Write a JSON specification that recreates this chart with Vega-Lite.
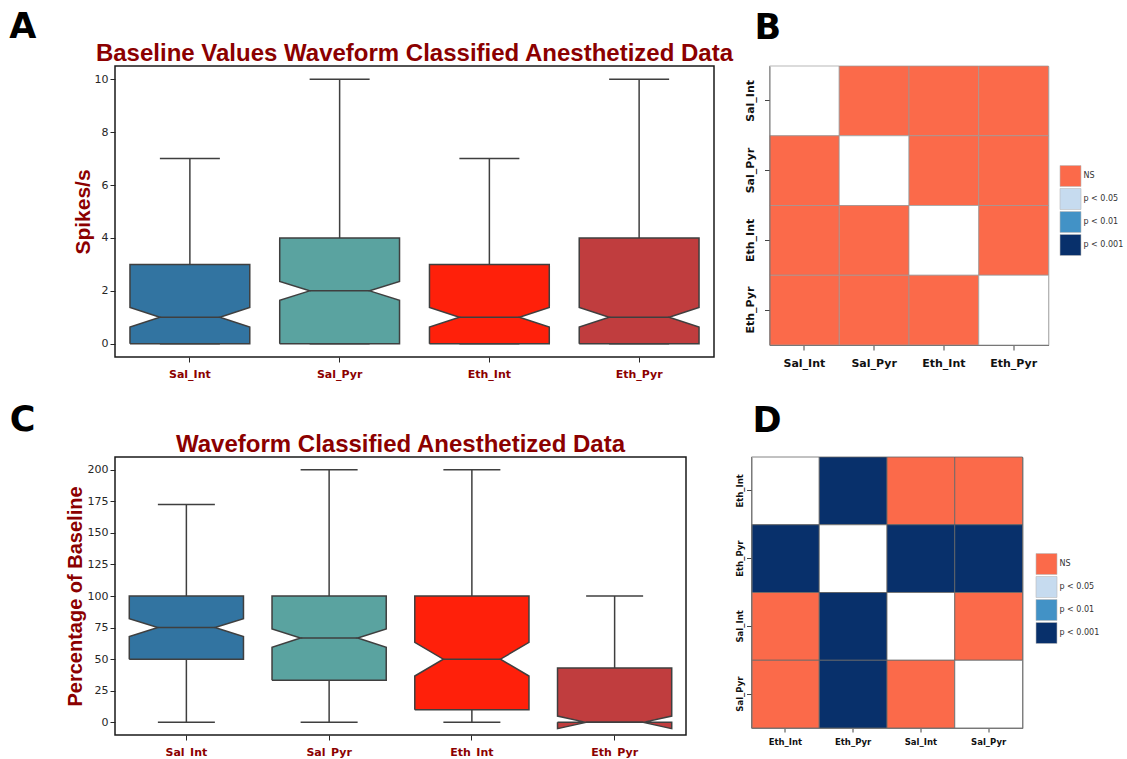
{
  "$schema": "https://vega.github.io/schema/vega-lite/v6.json",
  "background": "white",
  "padding": {"left": 9, "top": 10, "right": 0, "bottom": 0},
  "config": {"font": "DejaVu Sans"},
  "resolve": {"scale": {"fill": "independent", "xOffset": "independent", "x": "independent", "y": "independent"}},
  "datasets": {
    "statsA": [
      {"group": "Sal_Int", "whislo": 0, "q1": 0, "nlo": 0.63, "med": 1, "nhi": 1.37, "q3": 3, "whishi": 7},
      {"group": "Sal_Pyr", "whislo": 0, "q1": 0, "nlo": 1.64, "med": 2, "nhi": 2.36, "q3": 4, "whishi": 10},
      {"group": "Eth_Int", "whislo": 0, "q1": 0, "nlo": 0.63, "med": 1, "nhi": 1.37, "q3": 3, "whishi": 7},
      {"group": "Eth_Pyr", "whislo": 0, "q1": 0, "nlo": 0.63, "med": 1, "nhi": 1.37, "q3": 4, "whishi": 10}
    ],
    "statsC": [
      {"group": "Sal_Int", "whislo": 0, "q1": 50, "nlo": 68, "med": 75, "nhi": 82, "q3": 100, "whishi": 172.5},
      {"group": "Sal_Pyr", "whislo": 0, "q1": 33.3, "nlo": 59.5, "med": 66.7, "nhi": 73.9, "q3": 100, "whishi": 200},
      {"group": "Eth_Int", "whislo": 0, "q1": 10, "nlo": 36.7, "med": 50, "nhi": 63.3, "q3": 100, "whishi": 200},
      {"group": "Eth_Pyr", "whislo": 0, "q1": 0, "nlo": -5, "med": 0, "nhi": 5, "q3": 43, "whishi": 100}
    ],
    "notch": [
      {"stat": "q1", "sides": ["L", "R", "L"], "ks": [0, 9, 10]},
      {"stat": "nlo", "sides": ["L", "R"], "ks": [1, 8]},
      {"stat": "med", "sides": ["CL", "CR"], "ks": [2, 7]},
      {"stat": "nhi", "sides": ["L", "R"], "ks": [3, 6]},
      {"stat": "q3", "sides": ["L", "R"], "ks": [4, 5]}
    ],
    "heatB": [
      {"r": "Sal_Int", "c": "Sal_Int", "sig": "same"},
      {"r": "Sal_Int", "c": "Sal_Pyr", "sig": "NS"},
      {"r": "Sal_Int", "c": "Eth_Int", "sig": "NS"},
      {"r": "Sal_Int", "c": "Eth_Pyr", "sig": "NS"},
      {"r": "Sal_Pyr", "c": "Sal_Int", "sig": "NS"},
      {"r": "Sal_Pyr", "c": "Sal_Pyr", "sig": "same"},
      {"r": "Sal_Pyr", "c": "Eth_Int", "sig": "NS"},
      {"r": "Sal_Pyr", "c": "Eth_Pyr", "sig": "NS"},
      {"r": "Eth_Int", "c": "Sal_Int", "sig": "NS"},
      {"r": "Eth_Int", "c": "Sal_Pyr", "sig": "NS"},
      {"r": "Eth_Int", "c": "Eth_Int", "sig": "same"},
      {"r": "Eth_Int", "c": "Eth_Pyr", "sig": "NS"},
      {"r": "Eth_Pyr", "c": "Sal_Int", "sig": "NS"},
      {"r": "Eth_Pyr", "c": "Sal_Pyr", "sig": "NS"},
      {"r": "Eth_Pyr", "c": "Eth_Int", "sig": "NS"},
      {"r": "Eth_Pyr", "c": "Eth_Pyr", "sig": "same"}
    ],
    "heatD": [
      {"r": "Eth_Int", "c": "Eth_Int", "sig": "same"},
      {"r": "Eth_Int", "c": "Eth_Pyr", "sig": "p < 0.001"},
      {"r": "Eth_Int", "c": "Sal_Int", "sig": "NS"},
      {"r": "Eth_Int", "c": "Sal_Pyr", "sig": "NS"},
      {"r": "Eth_Pyr", "c": "Eth_Int", "sig": "p < 0.001"},
      {"r": "Eth_Pyr", "c": "Eth_Pyr", "sig": "same"},
      {"r": "Eth_Pyr", "c": "Sal_Int", "sig": "p < 0.001"},
      {"r": "Eth_Pyr", "c": "Sal_Pyr", "sig": "p < 0.001"},
      {"r": "Sal_Int", "c": "Eth_Int", "sig": "NS"},
      {"r": "Sal_Int", "c": "Eth_Pyr", "sig": "p < 0.001"},
      {"r": "Sal_Int", "c": "Sal_Int", "sig": "same"},
      {"r": "Sal_Int", "c": "Sal_Pyr", "sig": "NS"},
      {"r": "Sal_Pyr", "c": "Eth_Int", "sig": "NS"},
      {"r": "Sal_Pyr", "c": "Eth_Pyr", "sig": "p < 0.001"},
      {"r": "Sal_Pyr", "c": "Sal_Int", "sig": "NS"},
      {"r": "Sal_Pyr", "c": "Sal_Pyr", "sig": "same"}
    ]
  },
  "columns": 1,
  "align": "none",
  "spacing": 23,
  "concat": [
    {
      "title": {"text": "A", "anchor": "start", "frame": "bounds", "font": "DejaVu Sans", "fontSize": 35, "fontWeight": "bold", "color": "#000000", "offset": 0, "dx": -62, "dy": 35},
      "spacing": 8.5,
      "resolve": {"scale": {"fill": "independent", "xOffset": "independent", "x": "independent", "y": "independent"}},
      "hconcat": [
        {
          "width": 599,
          "height": 291,
          "view": {"stroke": "#1a1a1a", "strokeWidth": 1.5},
          "title": {"text": "Baseline Values Waveform Classified Anesthetized Data", "font": "Liberation Sans", "fontSize": 24, "fontWeight": "bold", "color": "#8b0000", "anchor": "middle", "frame": "group", "offset": 0},
          "encoding": {
            "x": {"field": "group", "type": "nominal",
              "scale": {"domain": ["Sal_Int", "Sal_Pyr", "Eth_Int", "Eth_Pyr"], "paddingInner": 0, "paddingOuter": 0},
              "axis": {"title": null, "labelAngle": 0, "labelColor": "#8b0000", "labelFont": "DejaVu Sans", "labelFontWeight": "bold", "labelFontSize": 11, "labelPadding": 6, "tickSize": 5, "tickColor": "#262626", "tickWidth": 1, "domain": false}}
          },
          "layer": [
            {
              "data": {"name": "statsA"},
              "mark": {"type": "rule", "color": "#3f3f3f", "strokeWidth": 1.5},
              "encoding": {
                "y": {"field": "whislo", "type": "quantitative",
                  "scale": {"domain": [-0.5, 10.5], "nice": false, "zero": false},
                  "axis": {"title": "Spikes/s", "values": [0, 2, 4, 6, 8, 10], "grid": false, "domain": false, "labelFont": "DejaVu Sans", "labelFontSize": 11, "labelColor": "#262626", "tickSize": 5, "tickColor": "#262626", "labelPadding": 2, "titleFont": "Liberation Sans", "titleFontSize": 21, "titleFontWeight": "bold", "titleColor": "#8b0000", "titlePadding": 1}},
                "y2": {"field": "whishi"}
              }
            },
            {
              "data": {"name": "statsA"},
              "transform": [{"fold": ["whislo", "whishi"], "as": ["cap", "v"]}],
              "mark": {"type": "tick", "color": "#3f3f3f", "size": 60, "thickness": 1.5, "opacity": 1},
              "encoding": {"y": {"field": "v", "type": "quantitative",
                  "axis": {"title": "Spikes/s", "values": [0, 2, 4, 6, 8, 10], "grid": false, "domain": false, "labelFont": "DejaVu Sans", "labelFontSize": 11, "labelColor": "#262626", "tickSize": 5, "tickColor": "#262626", "labelPadding": 2, "titleFont": "Liberation Sans", "titleFontSize": 21, "titleFontWeight": "bold", "titleColor": "#8b0000", "titlePadding": 1}}}
            },
            {
              "data": {"name": "statsA"},
              "transform": [
                {"fold": ["q1", "nlo", "med", "nhi", "q3"], "as": ["stat", "v"]},
                {"lookup": "stat", "from": {"data": {"name": "notch"}, "key": "stat", "fields": ["sides", "ks"]}},
                {"flatten": ["sides", "ks"], "as": ["side", "k"]}
              ],
              "mark": {"type": "line", "stroke": "#3f3f3f", "strokeWidth": 1.5, "strokeJoin": "miter"},
              "encoding": {
                "xOffset": {"field": "side", "type": "nominal", "scale": {"type": "point", "domain": ["L", "CL", "M", "CR", "R"], "padding": 0.5}},
                "y": {"field": "v", "type": "quantitative",
                  "axis": {"title": "Spikes/s", "values": [0, 2, 4, 6, 8, 10], "grid": false, "domain": false, "labelFont": "DejaVu Sans", "labelFontSize": 11, "labelColor": "#262626", "tickSize": 5, "tickColor": "#262626", "labelPadding": 2, "titleFont": "Liberation Sans", "titleFontSize": 21, "titleFontWeight": "bold", "titleColor": "#8b0000", "titlePadding": 1}},
                "order": {"field": "k", "type": "quantitative"},
                "detail": {"field": "group"},
                "fill": {"field": "group", "type": "nominal", "legend": null,
                  "scale": {"domain": ["Sal_Int", "Sal_Pyr", "Eth_Int", "Eth_Pyr"], "range": ["#3274a1", "#5aa3a0", "#ff200a", "#c03d3e"]}}
              }
            },
            {
              "data": {"name": "statsA"},
              "transform": [
                {"fold": ["q1", "nlo", "med", "nhi", "q3"], "as": ["stat", "v"]},
                {"lookup": "stat", "from": {"data": {"name": "notch"}, "key": "stat", "fields": ["sides", "ks"]}},
                {"flatten": ["sides", "ks"], "as": ["side", "k"]},
                {"filter": "datum.stat === 'med'"}
              ],
              "mark": {"type": "line", "stroke": "#3f3f3f", "strokeWidth": 1.5},
              "encoding": {
                "xOffset": {"field": "side", "type": "nominal"},
                "y": {"field": "v", "type": "quantitative",
                  "axis": {"title": "Spikes/s", "values": [0, 2, 4, 6, 8, 10], "grid": false, "domain": false, "labelFont": "DejaVu Sans", "labelFontSize": 11, "labelColor": "#262626", "tickSize": 5, "tickColor": "#262626", "labelPadding": 2, "titleFont": "Liberation Sans", "titleFontSize": 21, "titleFontWeight": "bold", "titleColor": "#8b0000", "titlePadding": 1}},
                "order": {"field": "k", "type": "quantitative"},
                "detail": {"field": "group"}
              }
            }
          ]
        },
        {
          "width": 279,
          "height": 279,
          "view": {"stroke": "#cccccc", "strokeWidth": 1},
          "title": {"text": "B", "anchor": "start", "frame": "group", "font": "DejaVu Sans", "fontSize": 35, "fontWeight": "bold", "color": "#000000", "offset": 20, "dx": -15},
          "data": {"name": "heatB"},
          "mark": {"type": "rect", "stroke": "#9a9a9a", "strokeWidth": 0.7},
          "encoding": {
            "x": {"field": "c", "type": "nominal",
              "scale": {"domain": ["Sal_Int", "Sal_Pyr", "Eth_Int", "Eth_Pyr"], "paddingInner": 0, "paddingOuter": 0},
              "axis": {"title": null, "labelAngle": 0, "labelFont": "DejaVu Sans", "labelFontWeight": "bold", "labelFontSize": 11, "labelColor": "#111111", "labelPadding": 7, "tickSize": 5, "tickColor": "#444444", "domainColor": "#777777"}},
            "y": {"field": "r", "type": "nominal",
              "scale": {"domain": ["Sal_Int", "Sal_Pyr", "Eth_Int", "Eth_Pyr"], "paddingInner": 0, "paddingOuter": 0},
              "axis": {"title": null, "labelAngle": -90, "labelAlign": "center", "labelBaseline": "bottom", "labelFont": "DejaVu Sans", "labelFontWeight": "bold", "labelFontSize": 11, "labelColor": "#111111", "labelPadding": 9, "tickSize": 5, "tickColor": "#444444", "domainColor": "#777777"}},
            "fill": {"field": "sig", "type": "nominal",
              "scale": {"domain": ["NS", "p < 0.05", "p < 0.01", "p < 0.001", "same"], "range": ["#fb6a4a", "#c6dbef", "#4292c6", "#08306b", "#ffffff"]},
              "legend": {"title": null, "values": ["NS", "p < 0.05", "p < 0.01", "p < 0.001"], "orient": "none", "legendX": 290, "legendY": 99, "symbolType": "square", "symbolSize": 441, "rowPadding": -3, "symbolStrokeColor": "#bbbbbb", "symbolStrokeWidth": 0.6, "labelFont": "DejaVu Sans", "labelFontSize": 8, "labelColor": "#333333", "labelOffset": 2, "padding": 0}}
          }
        }
      ]
    },
    {
      "title": {"text": "C", "anchor": "start", "frame": "bounds", "font": "DejaVu Sans", "fontSize": 35, "fontWeight": "bold", "color": "#000000", "offset": 0, "dx": -54.5, "dy": 35},
      "spacing": 47.5,
      "resolve": {"scale": {"fill": "independent", "xOffset": "independent", "x": "independent", "y": "independent"}},
      "hconcat": [
        {
          "width": 571,
          "height": 278,
          "view": {"stroke": "#1a1a1a", "strokeWidth": 1.5},
          "title": {"text": "Waveform Classified Anesthetized Data", "font": "Liberation Sans", "fontSize": 24, "fontWeight": "bold", "color": "#8b0000", "anchor": "middle", "frame": "group", "offset": 0},
          "encoding": {
            "x": {"field": "group", "type": "nominal",
              "scale": {"domain": ["Sal_Int", "Sal_Pyr", "Eth_Int", "Eth_Pyr"], "paddingInner": 0, "paddingOuter": 0},
              "axis": {"title": null, "labelAngle": 0, "labelColor": "#8b0000", "labelFont": "DejaVu Sans", "labelFontWeight": "bold", "labelFontSize": 11, "labelPadding": 6, "tickSize": 5, "tickColor": "#262626", "tickWidth": 1, "domain": false}}
          },
          "layer": [
            {
              "data": {"name": "statsC"},
              "mark": {"type": "rule", "color": "#3f3f3f", "strokeWidth": 1.5},
              "encoding": {
                "y": {"field": "whislo", "type": "quantitative",
                  "scale": {"domain": [-10, 210], "nice": false, "zero": false},
                  "axis": {"title": "Percentage of Baseline", "values": [0, 25, 50, 75, 100, 125, 150, 175, 200], "grid": false, "domain": false, "labelFont": "DejaVu Sans", "labelFontSize": 11, "labelColor": "#262626", "tickSize": 5, "tickColor": "#262626", "labelPadding": 2, "titleFont": "Liberation Sans", "titleFontSize": 20, "titleFontWeight": "bold", "titleColor": "#8b0000", "titlePadding": 2}},
                "y2": {"field": "whishi"}
              }
            },
            {
              "data": {"name": "statsC"},
              "transform": [{"fold": ["whislo", "whishi"], "as": ["cap", "v"]}],
              "mark": {"type": "tick", "color": "#3f3f3f", "size": 57, "thickness": 1.5, "opacity": 1},
              "encoding": {"y": {"field": "v", "type": "quantitative",
                  "axis": {"title": "Percentage of Baseline", "values": [0, 25, 50, 75, 100, 125, 150, 175, 200], "grid": false, "domain": false, "labelFont": "DejaVu Sans", "labelFontSize": 11, "labelColor": "#262626", "tickSize": 5, "tickColor": "#262626", "labelPadding": 2, "titleFont": "Liberation Sans", "titleFontSize": 20, "titleFontWeight": "bold", "titleColor": "#8b0000", "titlePadding": 2}}}
            },
            {
              "data": {"name": "statsC"},
              "transform": [
                {"fold": ["q1", "nlo", "med", "nhi", "q3"], "as": ["stat", "v"]},
                {"lookup": "stat", "from": {"data": {"name": "notch"}, "key": "stat", "fields": ["sides", "ks"]}},
                {"flatten": ["sides", "ks"], "as": ["side", "k"]}
              ],
              "mark": {"type": "line", "stroke": "#3f3f3f", "strokeWidth": 1.5, "strokeJoin": "miter"},
              "encoding": {
                "xOffset": {"field": "side", "type": "nominal", "scale": {"type": "point", "domain": ["L", "CL", "M", "CR", "R"], "padding": 0.5}},
                "y": {"field": "v", "type": "quantitative",
                  "axis": {"title": "Percentage of Baseline", "values": [0, 25, 50, 75, 100, 125, 150, 175, 200], "grid": false, "domain": false, "labelFont": "DejaVu Sans", "labelFontSize": 11, "labelColor": "#262626", "tickSize": 5, "tickColor": "#262626", "labelPadding": 2, "titleFont": "Liberation Sans", "titleFontSize": 20, "titleFontWeight": "bold", "titleColor": "#8b0000", "titlePadding": 2}},
                "order": {"field": "k", "type": "quantitative"},
                "detail": {"field": "group"},
                "fill": {"field": "group", "type": "nominal", "legend": null,
                  "scale": {"domain": ["Sal_Int", "Sal_Pyr", "Eth_Int", "Eth_Pyr"], "range": ["#3274a1", "#5aa3a0", "#ff200a", "#c03d3e"]}}
              }
            },
            {
              "data": {"name": "statsC"},
              "transform": [
                {"fold": ["q1", "nlo", "med", "nhi", "q3"], "as": ["stat", "v"]},
                {"lookup": "stat", "from": {"data": {"name": "notch"}, "key": "stat", "fields": ["sides", "ks"]}},
                {"flatten": ["sides", "ks"], "as": ["side", "k"]},
                {"filter": "datum.stat === 'med'"}
              ],
              "mark": {"type": "line", "stroke": "#3f3f3f", "strokeWidth": 1.5},
              "encoding": {
                "xOffset": {"field": "side", "type": "nominal"},
                "y": {"field": "v", "type": "quantitative",
                  "axis": {"title": "Percentage of Baseline", "values": [0, 25, 50, 75, 100, 125, 150, 175, 200], "grid": false, "domain": false, "labelFont": "DejaVu Sans", "labelFontSize": 11, "labelColor": "#262626", "tickSize": 5, "tickColor": "#262626", "labelPadding": 2, "titleFont": "Liberation Sans", "titleFontSize": 20, "titleFontWeight": "bold", "titleColor": "#8b0000", "titlePadding": 2}},
                "order": {"field": "k", "type": "quantitative"},
                "detail": {"field": "group"}
              }
            }
          ]
        },
        {
          "width": 271,
          "height": 271,
          "view": {"stroke": "#888888", "strokeWidth": 1},
          "title": {"text": "D", "anchor": "start", "frame": "group", "font": "DejaVu Sans", "fontSize": 35, "fontWeight": "bold", "color": "#000000", "offset": 18, "dx": 1},
          "data": {"name": "heatD"},
          "mark": {"type": "rect", "stroke": "#666666", "strokeWidth": 0.8},
          "encoding": {
            "x": {"field": "c", "type": "nominal",
              "scale": {"domain": ["Eth_Int", "Eth_Pyr", "Sal_Int", "Sal_Pyr"], "paddingInner": 0, "paddingOuter": 0},
              "axis": {"title": null, "labelAngle": 0, "labelFont": "DejaVu Sans", "labelFontWeight": "bold", "labelFontSize": 8.5, "labelColor": "#111111", "labelPadding": 5, "tickSize": 4, "tickColor": "#444444", "domainColor": "#777777"}},
            "y": {"field": "r", "type": "nominal",
              "scale": {"domain": ["Eth_Int", "Eth_Pyr", "Sal_Int", "Sal_Pyr"], "paddingInner": 0, "paddingOuter": 0},
              "axis": {"title": null, "labelAngle": -90, "labelAlign": "center", "labelBaseline": "bottom", "labelFont": "DejaVu Sans", "labelFontWeight": "bold", "labelFontSize": 8.5, "labelColor": "#111111", "labelPadding": 2, "tickSize": 5, "tickColor": "#444444", "domainColor": "#777777"}},
            "fill": {"field": "sig", "type": "nominal",
              "scale": {"domain": ["NS", "p < 0.05", "p < 0.01", "p < 0.001", "same"], "range": ["#fb6a4a", "#c6dbef", "#4292c6", "#08306b", "#ffffff"]},
              "legend": {"title": null, "values": ["NS", "p < 0.05", "p < 0.01", "p < 0.001"], "orient": "none", "legendX": 284, "legendY": 96, "symbolType": "square", "symbolSize": 441, "rowPadding": -3, "symbolStrokeColor": "#bbbbbb", "symbolStrokeWidth": 0.6, "labelFont": "DejaVu Sans", "labelFontSize": 8, "labelColor": "#333333", "labelOffset": 2, "padding": 0}}
          }
        }
      ]
    }
  ]
}
